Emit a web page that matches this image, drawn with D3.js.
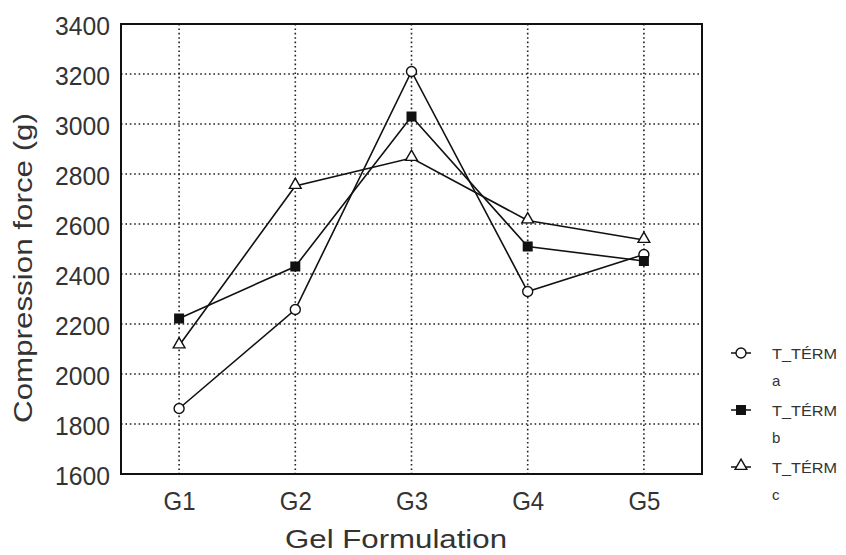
<!DOCTYPE html>
<meta charset="utf-8">
<head>
  <title>Compression force</title>
</head>
<style>
  body { margin: 0; background: #fff; }
  svg { font-family: "Liberation Sans", Arial, sans-serif; }
</style>
<body>
<svg width="846" height="555"></svg>
<script src="https://cdnjs.cloudflare.com/ajax/libs/d3/7.8.5/d3.min.js"></script>
<script>
  var categories = ["G1", "G2", "G3", "G4", "G5"];
  var yTicks = [1600, 1800, 2000, 2200, 2400, 2600, 2800, 3000, 3200, 3400];
  var seriesNames = ["a", "b", "c"];
  var valuesA = [1862, 2258, 3210, 2330, 2478];
  var valuesB = [2222, 2430, 3030, 2510, 2452];
  var valuesC = [2114, 2752, 2864, 2614, 2536];

  var series = [
    { name: seriesNames[0], values: valuesA, marker: "circle" },
    { name: seriesNames[1], values: valuesB, marker: "square" },
    { name: seriesNames[2], values: valuesC, marker: "triangle" }
  ];

  // note: "top" is reserved on window, so use plotX0 etc.
  var plotX0 = 121, plotX1 = 702, plotY0 = 24, plotY1 = 474;
  var svg = d3.select("svg");

  var x = d3.scalePoint().domain(categories).range([plotX0, plotX1]).padding(0.5);
  var y = d3.scaleLinear().domain([1600, 3400]).range([plotY1, plotY0]);

  // grid
  var grid = svg.append("g")
    .attr("stroke", "#222")
    .attr("stroke-width", 1.6)
    .attr("stroke-dasharray", "1.6,2.8");
  grid.selectAll(".gy").data(yTicks.slice(1, -1)).enter().append("line")
    .attr("x1", plotX0).attr("x2", plotX1)
    .attr("y1", function(d) { return y(d); }).attr("y2", function(d) { return y(d); });
  grid.selectAll(".gx").data(categories).enter().append("line")
    .attr("y1", plotY0).attr("y2", plotY1)
    .attr("x1", function(d) { return x(d); }).attr("x2", function(d) { return x(d); });

  // frame
  svg.append("rect")
    .attr("x", plotX0).attr("y", plotY0)
    .attr("width", plotX1 - plotX0).attr("height", plotY1 - plotY0)
    .attr("fill", "none").attr("stroke", "#111").attr("stroke-width", 2);

  // axes (the source font is wide, so stretch the labels a bit)
  var yAxis = svg.append("g")
    .attr("transform", "translate(" + plotX0 + ",0)")
    .call(d3.axisLeft(y).tickValues(yTicks).tickSize(0).tickPadding(11).tickFormat(d3.format("d")));
  var xAxis = svg.append("g")
    .attr("transform", "translate(0," + plotY1 + ")")
    .call(d3.axisBottom(x).tickSize(0).tickPadding(0));
  [yAxis, xAxis].forEach(function(a) {
    a.select(".domain").remove();
    a.selectAll("text")
      .attr("font-family", "'Liberation Sans', Arial, sans-serif")
      .attr("font-size", 25)
      .attr("fill", "#333")
      .attr("lengthAdjust", "spacingAndGlyphs");
  });
  yAxis.selectAll("text").attr("dy", "0.42em").attr("textLength", 55);
  xAxis.selectAll("text").attr("dy", 0).attr("y", 36).attr("textLength", 32);

  svg.append("text")
    .attr("transform", "translate(32,268) rotate(-90)")
    .attr("text-anchor", "middle")
    .attr("font-size", 25).attr("fill", "#333")
    .attr("textLength", 310).attr("lengthAdjust", "spacingAndGlyphs")
    .text("Compression force (g)");
  svg.append("text")
    .attr("x", 396).attr("y", 548)
    .attr("text-anchor", "middle")
    .attr("font-size", 25).attr("fill", "#333")
    .attr("textLength", 222).attr("lengthAdjust", "spacingAndGlyphs")
    .text("Gel Formulation");

  var line = d3.line()
    .x(function(d, i) { return x(categories[i]); })
    .y(function(d) { return y(d); });

  function drawMarker(g, type) {
    if (type === "circle") {
      g.append("circle").attr("r", 5).attr("fill", "#fff").attr("stroke", "#111").attr("stroke-width", 1.4);
    } else if (type === "square") {
      g.append("rect").attr("x", -5).attr("y", -5).attr("width", 10).attr("height", 10).attr("fill", "#111");
    } else {
      g.append("path").attr("d", d3.symbol(d3.symbolTriangle, 60)()).attr("transform", "translate(0,-1)")
        .attr("fill", "#fff").attr("stroke", "#111").attr("stroke-width", 1.4);
    }
  }

  series.forEach(function(s) {
    svg.append("path")
      .attr("d", line(s.values))
      .attr("fill", "none").attr("stroke", "#111").attr("stroke-width", 1.6);
  });
  series.forEach(function(s) {
    s.values.forEach(function(v, i) {
      var g = svg.append("g").attr("transform", "translate(" + x(categories[i]) + "," + y(v) + ")");
      drawMarker(g, s.marker);
    });
  });

  // legend
  var legend = svg.append("g");
  series.forEach(function(s, i) {
    var ly = 353 + i * 57;
    var g = legend.append("g").attr("transform", "translate(0," + ly + ")");
    g.append("line").attr("x1", 731).attr("x2", 751).attr("stroke", "#111").attr("stroke-width", 1.5);
    drawMarker(g.append("g").attr("transform", "translate(741,0)"), s.marker);
    g.append("text").attr("x", 772).attr("y", 5.5)
      .attr("font-size", 15).attr("fill", "#333")
      .attr("textLength", 65).attr("lengthAdjust", "spacingAndGlyphs")
      .text("T_TÉRM");
    g.append("text").attr("x", 772).attr("y", 33)
      .attr("font-size", 15).attr("fill", "#333").text(s.name);
  });
</script>
</body>
</html>
